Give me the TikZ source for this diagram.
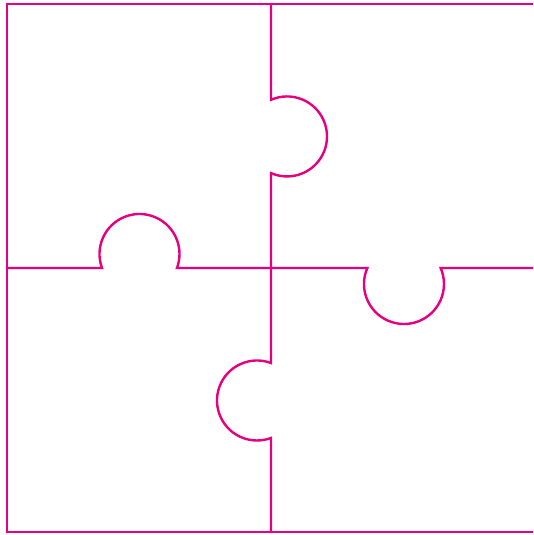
\documentclass[tikz,border=0pt]{standalone}
\usepackage{tikz}
\usetikzlibrary{calc}
\definecolor{rubine}{HTML}{E6007E}
\tikzset{
  cutline/.style={draw=rubine, line width=2.4pt, line join=miter},
  knobarc/.style={radius=40}}

\begin{document}
\begin{tikzpicture}[x=1pt, y=1pt]
        \useasboundingbox (0,0) rectangle (533,535);
        \clip (0,0) rectangle (533,535);
        % frame, open on the right
        \draw[cutline] (536,531) -- (7,531) -- (7,3) -- (536,3);
        % vertical cut: knob to the right above, knob to the left below
        \draw[cutline] (271,531) -- (271,435.2)
          arc[knobarc, start angle=113.6, end angle=-113.6]
          -- (271,171.97)
          arc[knobarc, start angle=69.5, end angle=290.5]
          -- (271,3);
        % horizontal cut: knob up on the left, knob down on the right
        \draw[cutline] (7,267) -- (102.03,267)
          arc[knobarc, start angle=200.5, end angle=-20.5]
          -- (367.34,267)
          arc[knobarc, start angle=156.4, end angle=383.6]
          -- (536,267);
      \end{tikzpicture}
\end{document}
